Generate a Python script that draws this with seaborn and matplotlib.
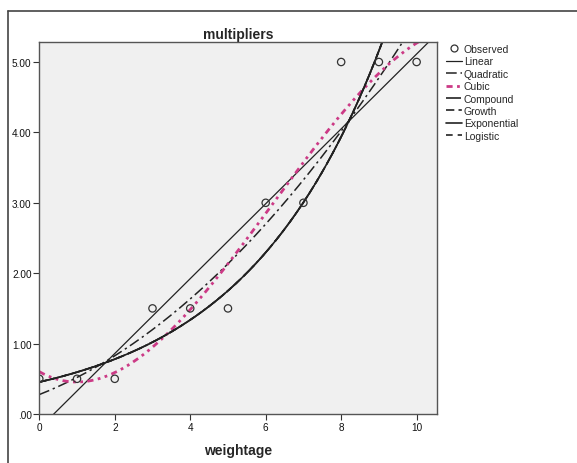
import numpy as np
import pandas as pd
import matplotlib
matplotlib.use("Agg")
import matplotlib.pyplot as plt
from matplotlib.ticker import FuncFormatter
from matplotlib.lines import Line2D
import seaborn as sns

# Observed data
weightage = [0, 1, 2, 3, 4, 5, 6, 7, 8, 9, 10]
multipliers = [0.5, 0.5, 0.5, 1.5, 1.5, 1.5, 3.0, 3.0, 5.0, 5.0, 5.0]
x_ticks = [0, 2, 4, 6, 8, 10]
y_ticks = [0, 1, 2, 3, 4, 5]
model_names = ["Linear", "Quadratic", "Cubic", "Compound", "Growth", "Exponential", "Logistic"]

sns.set_style("ticks")
plt.rcParams['font.family'] = ['Liberation Sans', 'DejaVu Sans']

fig = plt.figure(figsize=(5.77, 4.64), dpi=100)
ax = fig.add_axes([39.3 / 577, 1 - 415 / 464, (437 - 39.3) / 577, (415 - 43) / 464])
ax.set_facecolor("#F0F0F0")

xo = np.array(weightage, dtype=float)
yo = np.array(multipliers, dtype=float)
grid = np.linspace(0, 10.6, 300)

# Fitted models (regression on the observed data)
p1 = np.polyfit(xo, yo, 1)
p2 = np.polyfit(xo, yo, 2)
p3 = np.polyfit(xo, yo, 3)
pe = np.polyfit(xo, np.log(yo), 1)
fits = {
    "Linear": np.polyval(p1, grid),
    "Quadratic": np.polyval(p2, grid),
    "Cubic": np.polyval(p3, grid),
    "Compound": np.exp(np.polyval(pe, grid)),
    "Growth": np.exp(np.polyval(pe, grid)),
    "Exponential": np.exp(np.polyval(pe, grid)),
    "Logistic": np.exp(np.polyval(pe, grid)),
}
styles = {
    "Linear": dict(color="#222222", lw=0.9, ls="-"),
    "Quadratic": dict(color="#222222", lw=1.1, ls=(0, (7, 2.5, 1.5, 2.5))),
    "Cubic": dict(color="#CC3A86", lw=2.0, ls=(0, (2.2, 1.6, 1.0, 1.6, 1.0, 1.6))),
    "Compound": dict(color="#222222", lw=1.2, ls=(0, (9, 2, 1, 2))),
    "Growth": dict(color="#222222", lw=1.2, ls=(0, (5, 2.5, 2, 2.5))),
    "Exponential": dict(color="#222222", lw=1.2, ls="-"),
    "Logistic": dict(color="#222222", lw=1.2, ls=(0, (4, 3))),
}

handles = []
handles.append(Line2D([], [], marker="o", ls="none", markerfacecolor="none",
                      markeredgecolor="#333333", markersize=5, markeredgewidth=0.9,
                      label="Observed"))

for name in model_names:
    st = styles[name]
    df = pd.DataFrame({"x": grid, "y": fits[name]})
    sns.lineplot(data=df, x="x", y="y", ax=ax, color=st["color"], linewidth=st["lw"],
                 linestyle=st["ls"], legend=False, sort=False)
    handles.append(Line2D([], [], color=st["color"], lw=st["lw"] if name != "Cubic" else 2.0,
                          ls=st["ls"], label=name))

obs = pd.DataFrame({"weightage": weightage, "multipliers": multipliers})
sns.scatterplot(data=obs, x="weightage", y="multipliers", ax=ax, marker="o",
                s=28, facecolor="none", edgecolor="#333333", linewidth=0.9,
                zorder=5, legend=False)

ax.set_xlim(0, 10.54)
ax.set_ylim(0, 5.284)
ax.set_xticks(x_ticks)
ax.set_yticks(y_ticks)
ax.yaxis.set_major_formatter(FuncFormatter(lambda v, p: ("%.2f" % v).lstrip("0") if v < 1 else "%.2f" % v))
ax.tick_params(axis="both", direction="out", length=4, width=0.8, color="#333333",
               labelsize=7.2, labelcolor="#111111", pad=1.5)
for s in ax.spines.values():
    s.set_color("#555555")
    s.set_linewidth(1.0)
    s.set_visible(True)
    s.set_zorder(6)

ax.set_xlabel("weightage", fontsize=10, fontweight="bold", labelpad=8)
ax.set_ylabel("")
ax.set_title("multipliers", fontsize=10, fontweight="bold", pad=3)

fig.legend(handles=handles, loc="upper left", bbox_to_anchor=(446 / 577, 1 - 45 / 464),
           frameon=False, fontsize=7.5, handlelength=1.5, handletextpad=0.2,
           labelspacing=0.23, borderaxespad=0, borderpad=0)

# outer frame lines (top and left)
fig.add_artist(Line2D([8 / 577, 1], [1 - 12 / 464, 1 - 12 / 464], transform=fig.transFigure,
                      color="#444444", lw=1.2))
fig.add_artist(Line2D([8 / 577, 8 / 577], [0, 1 - 12 / 464], transform=fig.transFigure,
                      color="#444444", lw=1.2))

fig.savefig("out.png", dpi=100, facecolor="white")
